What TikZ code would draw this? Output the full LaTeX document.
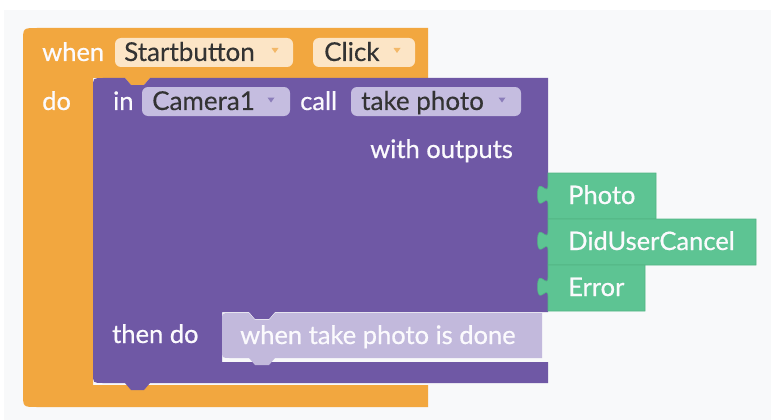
\documentclass[tikz,border=0pt]{standalone}
\usepackage{fontspec}
\setmainfont{Lato}
\newfontfamily\blocklabel{Lato}[FakeBold=0.6]
\newfontfamily\fieldlabel{Lato}[FakeBold=0.25]
\definecolor{evt}{HTML}{F2A73F}
\definecolor{evtfield}{HTML}{FCE5C6}
\definecolor{evtarrow}{HTML}{F3B868}
\definecolor{cam}{HTML}{6F58A5}
\definecolor{camfield}{HTML}{C5BDE0}
\definecolor{camarrow}{HTML}{8B7DBA}
\definecolor{innerblk}{HTML}{C2B9DC}
\definecolor{outp}{HTML}{5DC493}
\definecolor{outdark}{HTML}{52B584}
\definecolor{bgc}{HTML}{F8F9FA}
\definecolor{ink}{HTML}{333333}
\definecolor{paper}{HTML}{FBFAFD}

\begin{document}
\begin{tikzpicture}[x=1pt,y=-1pt,
  lbl/.style={inner sep=0pt, font=\blocklabel\fontsize{25.5}{30}\selectfont, text=paper},
  fld/.style={inner sep=0pt, font=\fieldlabel\fontsize{26}{30}\selectfont, text=ink},
  fieldbox/.style={rounded corners=6pt, inner sep=0pt}]
\useasboundingbox (0,0) rectangle (771,420);
% canvas
\fill[bgc] (0,0) rectangle (771,420);
\fill[white] (0,0) rectangle (771,10);
\fill[white] (0,0) rectangle (4,420);

% event block (orange C shape)
\fill[evt] (23,42) .. controls (23,28) .. (37,28) -- (428,28) -- (428,78)
  -- (150,78) -- (144,85) -- (131,85) -- (125,78) -- (93,78) -- (93,385)
  -- (428,385) -- (428,407) -- (37,407) .. controls (23,407) .. (23,393) -- cycle;

% method call block (purple)
\fill[cam] (93,88) .. controls (93,78) .. (103,78) -- (125,78) -- (131,85)
  -- (144,85) -- (150,78) -- (548,78) -- (548,312) -- (275,312) -- (269,319)
  -- (255,319) -- (249,312) -- (222,312) -- (222,362) -- (548,362) -- (548,383)
  -- (150,383) -- (144,390) -- (131,390) -- (125,383) -- (103,383)
  .. controls (93,383) .. (93,373) -- cycle;

% nested statement block
\fill[innerblk] (222,321) .. controls (222,313) .. (230,313) -- (249,313)
  -- (255,320) -- (269,320) -- (275,313) -- (542,313) -- (542,358)
  -- (275,358) -- (269,365) -- (255,365) -- (249,358) -- (230,358)
  .. controls (222,358) .. (222,350) -- cycle;

% dropdown fields
\node[fieldbox, fill=evtfield, minimum width=178pt, minimum height=29pt] (fstart) at (204,52.5) {};
\node[fieldbox, fill=evtfield, minimum width=102pt, minimum height=29pt] (fclick) at (364,52.5) {};
\node[fieldbox, fill=camfield, minimum width=148pt, minimum height=29pt] (fcam) at (216,101.5) {};
\node[fieldbox, fill=camfield, minimum width=170pt, minimum height=29pt] (ftake) at (436,101.5) {};

\fill[evtarrow] (271.5,48) -- (278.5,48) -- (275,53) -- cycle;
\fill[evtarrow] (393.5,48) -- (400.5,48) -- (397,53) -- cycle;
\fill[camarrow] (267.5,97.5) -- (274.5,97.5) -- (271,102.5) -- cycle;
\fill[camarrow] (498.5,97.5) -- (505.5,97.5) -- (502,102.5) -- cycle;

% output value blocks
\foreach \y/\w/\t/\n in {173/656/Photo/photo, 219/756/DidUserCancel/cancel, 265/645/Error/err}{
  \filldraw[fill=outp, draw=outdark, line width=0.6pt] (548,\y) -- (548,\y+12)
    .. controls (548,\y+25) and (537.6,\y+1.6) .. (537.6,\y+21.75)
    .. controls (537.6,\y+41.9) and (548,\y+18.5) .. (548,\y+31.5)
    -- (548,\y+46) -- (\w,\y+46) -- (\w,\y) -- cycle;
  \node[lbl, anchor=base west] (\n) at (568,\y+31) {\t};
}

% labels
\node[lbl, anchor=base west] (when) at (42,61) {when};
\node[fld, anchor=base west] (tstart) at (124,61) {Startbutton};
\node[fld, anchor=base west] (tclick) at (324,61) {Click};
\node[lbl, anchor=base west] (do) at (42,110) {do};
\node[lbl, anchor=base west] (in) at (113,110) {in};
\node[fld, anchor=base west] (tcam) at (152,110) {Camera1};
\node[lbl, anchor=base west] (call) at (300,110) {call};
\node[fld, anchor=base west] (ttake) at (361,110) {take photo};
\node[lbl, anchor=base east] (outs) at (513,158) {with outputs};
\node[lbl, anchor=base west] (thendo) at (112,343) {then do};
\node[lbl, anchor=base west] (done) at (240,344) {when take photo is done};
\end{tikzpicture}
\end{document}
